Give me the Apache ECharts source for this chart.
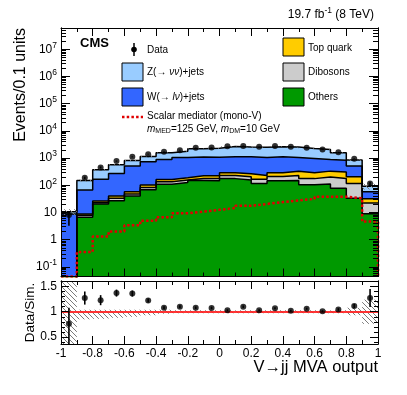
<!DOCTYPE html>
<html>
<head>
<meta charset="UTF-8">
<title>V→jj MVA output</title>
<script src="https://cdn.jsdelivr.net/npm/echarts/dist/echarts.min.js"></script>
<style>
    html, body { margin: 0; padding: 0; background: #fff; }
    #chart { width: 407px; height: 395px; }
</style>
</head>
<body>
<div id="chart"></div>
<script>
// bin edges of the MVA output (20 bins of 0.1)
const binEdges = [-1, -0.9, -0.8, -0.7, -0.6, -0.5, -0.4, -0.3, -0.2, -0.1, 0, 0.1, 0.2, 0.3, 0.4, 0.5, 0.6, 0.7, 0.8, 0.9, 1];

// simulated backgrounds, events per bin (stack order bottom -> top)
const others   = [0.01, 6.7, 20.5, 27, 40, 68, 108, 125, 150, 145, 175, 155, 115, 147, 150, 105, 110, 77, 33, 9];
const dibosons = [0.01, 1.1, 2.4, 5.9, 7.4, 14, 26, 30, 28, 33, 52, 50, 50, 64, 78, 70, 89, 101, 84, 13];
const topQuark = [0.01, 1.0, 3.5, 7.2, 10.4, 19, 30, 34, 45, 45, 58, 59, 65, 77, 100, 113, 131, 127, 88, 10];
const wJets    = [8.7, 58, 138, 232, 447, 626, 721, 860, 870, 840, 821, 845, 819, 821, 720, 676, 554, 532, 300, 25];
const zJets    = [1.8, 81, 204, 290, 308, 411, 677, 720, 1096, 1211, 1544, 1435, 1448, 1506, 1474, 1266, 1162, 737, 334, 35];

// observed data
const dataCounts = [8, 188, 453, 770, 1106, 1390, 1687, 1946, 2364, 2445, 2729, 2798, 2572, 2798, 2572, 2364, 2066, 1645, 935, 117];
// signal: scalar mediator (mono-V)
const signal = [0.044, 0.35, 1.3, 2.0, 3.4, 5.0, 6.7, 9.4, 10.7, 12.5, 14.5, 17.5, 20.5, 24, 27.5, 31.5, 38, 38, 33, 4.6];

// ratio uncertainties
const ratioErrUp   = [0.32, 0.13, 0.10, 0.07, 0.06, 0.04, 0.03, 0.03, 0.025, 0.025, 0.02, 0.025, 0.02, 0.02, 0.02, 0.02, 0.02, 0.025, 0.04, 0.18];
const ratioErrDown = [0.45, 0.13, 0.10, 0.07, 0.06, 0.04, 0.03, 0.03, 0.025, 0.025, 0.02, 0.025, 0.02, 0.02, 0.02, 0.02, 0.02, 0.025, 0.04, 0.18];
const bandLow  = [0.3, 0.85, 0.86, 0.88, 0.9, 0.93, 0.96, 0.97, 0.97, 0.97, 0.97, 0.97, 0.97, 0.97, 0.97, 0.97, 0.97, 0.97, 0.93, 0.76];
const bandHigh = [1.7, 1.04, 1.04, 1.04, 1.04, 1.04, 1.04, 1.03, 1.03, 1.03, 1.03, 1.03, 1.03, 1.03, 1.03, 1.03, 1.03, 1.03, 1.08, 1.24];
const mcUnc    = [0.25, 0.08, 0.07, 0.06, 0.05, 0.04, 0.03, 0.03, 0.03, 0.03, 0.03, 0.03, 0.03, 0.03, 0.03, 0.03, 0.03, 0.03, 0.07, 0.24];

// axis ticks
const decadeTicks = [-1, 0, 1, 2, 3, 4, 5, 6, 7];
const ratioTicks = [0.5, 1, 1.5];
const ratioMinor = [0.4, 0.6, 0.7, 0.8, 0.9, 1.1, 1.2, 1.3, 1.4, 1.6];

const FONT = '"Liberation Sans", Arial, sans-serif';
const YMIN = -1.355, YMAX = 7.78;
const RMIN = 0.36, RMAX = 1.61;

const minorLog = [];
for (let n = -2; n <= 7; n++) {
    for (let k = 2; k <= 9; k++) {
        const v = Math.log10(k) + n;
        if (v > YMIN && v < YMAX) minorLog.push(v);
    }
}

const layers = [
    { vals: others, color: '#009900' },
    { vals: dibosons, color: '#cccccc' },
    { vals: topQuark, color: '#ffcc00' },
    { vals: wJets, color: '#3366ff' },
    { vals: zJets, color: '#99ccff' }
];
let run = others.map(() => 0);
const cum = layers.map(l => (run = run.map((r, i) => r + l.vals[i])));
const total = cum[cum.length - 1];
const ratio = dataCounts.map((d, i) => d / total[i]);

function stepData(vals, closeTo) {
    const pts = vals.map((v, i) => [binEdges[i], Math.log10(v)]);
    pts.push([1, closeTo === undefined ? Math.log10(vals[vals.length - 1]) : closeTo]);
    return pts;
}

function hatchCanvas() {
    const c = document.createElement('canvas');
    c.width = 5; c.height = 5;
    const g = c.getContext('2d');
    g.strokeStyle = '#7a7a7a';
    g.lineWidth = 1;
    g.beginPath();
    g.moveTo(-1, -1); g.lineTo(6, 6);
    g.moveTo(-1, 4); g.lineTo(1, 6);
    g.moveTo(4, -1); g.lineTo(6, 1);
    g.stroke();
    return c;
}
const hatch = { image: hatchCanvas(), repeat: 'repeat' };

function xAx(grid, pos, showLabels) {
    return {
        type: 'value', gridIndex: grid, position: pos, min: -1, max: 1, interval: 0.2, z: 10,
        axisLine: { show: true, onZero: false, lineStyle: { color: '#000', width: 1 } },
        axisTick: { show: true, inside: true, length: 8, lineStyle: { color: '#000' } },
        minorTick: { show: true, splitNumber: 2, length: 4, lineStyle: { color: '#000' } },
        axisLabel: { show: showLabels, color: '#000', fontFamily: FONT, fontSize: 12, margin: 4 },
        splitLine: { show: false }
    };
}

function yAx(grid, pos, min, max, ticks, len, label) {
    const ax = {
        type: 'value', gridIndex: grid, position: pos, min: min, max: max, z: 10,
        axisLine: { show: true, onZero: false, lineStyle: { color: '#000', width: 1 } },
        axisTick: { show: true, inside: true, length: len, customValues: ticks, lineStyle: { color: '#000' } },
        axisLabel: { show: false },
        splitLine: { show: false }
    };
    if (label) {
        ax.axisLabel = Object.assign({ show: true, customValues: ticks, color: '#000', fontFamily: FONT, fontSize: 12, margin: 4 }, label);
    }
    return ax;
}

function bandItem(params, api) {
    const p0 = api.coord([api.value(0), api.value(3)]);
    const p1 = api.coord([api.value(1), api.value(2)]);
    const cs = params.coordSys;
    const rect = echarts.graphic.clipRectByRect(
        { x: p0[0], y: p0[1], width: p1[0] - p0[0], height: p1[1] - p0[1] },
        { x: cs.x, y: cs.y, width: cs.width, height: cs.height });
    return rect && { type: 'rect', shape: rect, style: { fill: hatch, stroke: null } };
}

function errItem(min, max) {
    return function (params, api) {
        const x = api.value(0);
        const lo = Math.max(min, api.value(1));
        const hi = Math.min(max, api.value(2));
        const a = api.coord([x, lo]);
        const b = api.coord([x, hi]);
        return { type: 'line', shape: { x1: a[0], y1: a[1], x2: b[0], y2: b[1] }, style: { stroke: '#000', lineWidth: 1.6 } };
    };
}

const series = [];
for (let i = layers.length - 1; i >= 0; i--) {
    series.push({
        type: 'line', xAxisIndex: 0, yAxisIndex: 0, step: 'end', symbol: 'none', clip: true,
        data: stepData(cum[i]),
        lineStyle: { color: '#000', width: 1.5 },
        areaStyle: { color: layers[i].color, opacity: 1, origin: 'start' },
        z: 2
    });
}
series.push({
    type: 'custom', xAxisIndex: 0, yAxisIndex: 0, renderItem: bandItem, z: 3,
    encode: { x: [0, 1], y: [2, 3] },
    data: total.map((t, i) => [binEdges[i], binEdges[i + 1], Math.log10(t * (1 - mcUnc[i])), Math.log10(t * (1 + mcUnc[i]))])
});
series.push({
    type: 'line', xAxisIndex: 0, yAxisIndex: 0, step: 'end', symbol: 'none', clip: true,
    data: stepData(signal, YMIN),
    lineStyle: { color: '#e00000', width: 2.5, type: [2.5, 2.2] },
    z: 4
});
series.push({
    type: 'custom', xAxisIndex: 0, yAxisIndex: 0, renderItem: errItem(YMIN, YMAX), z: 5,
    encode: { x: 0, y: [1, 2] },
    data: dataCounts.map((d, i) => [(binEdges[i] + binEdges[i + 1]) / 2,
        Math.log10(Math.max(d - ratioErrDown[i] * total[i], 1e-3)), Math.log10(d + ratioErrUp[i] * total[i])])
});
series.push({
    type: 'scatter', xAxisIndex: 0, yAxisIndex: 0, symbol: 'circle', symbolSize: 6, z: 6,
    itemStyle: { color: '#000' },
    data: dataCounts.map((d, i) => [(binEdges[i] + binEdges[i + 1]) / 2, Math.log10(d)])
});

// ratio panel
series.push({
    type: 'custom', xAxisIndex: 2, yAxisIndex: 4, renderItem: bandItem, z: 2,
    encode: { x: [0, 1], y: [2, 3] },
    data: bandLow.map((l, i) => [binEdges[i], binEdges[i + 1], l, bandHigh[i]])
});
series.push({
    type: 'custom', xAxisIndex: 2, yAxisIndex: 4, renderItem: errItem(RMIN, RMAX), z: 5,
    encode: { x: 0, y: [1, 2] },
    data: ratio.map((r, i) => [(binEdges[i] + binEdges[i + 1]) / 2, r - ratioErrDown[i], r + ratioErrUp[i]])
});
series.push({
    type: 'scatter', xAxisIndex: 2, yAxisIndex: 4, symbol: 'circle', symbolSize: 6, z: 6,
    itemStyle: { color: '#000' },
    data: ratio.map((r, i) => [(binEdges[i] + binEdges[i + 1]) / 2, r]),
    markLine: {
        silent: true, symbol: 'none', label: { show: false }, z: 3,
        lineStyle: { color: '#ff2020', width: 2, type: 'solid', opacity: 0.9 },
        data: [{ yAxis: 1 }]
    }
});

function txt(x, y, text, size, extra) {
    return {
        type: 'text', x: x, y: y, z: 100,
        style: Object.assign({
            text: text, fill: '#000', fontFamily: FONT, fontSize: size,
            align: 'left', verticalAlign: 'middle'
        }, extra || {})
    };
}
function box(x, y, color) {
    return { type: 'rect', z: 100, shape: { x: x, y: y, width: 21, height: 18 }, style: { fill: color, stroke: '#000', lineWidth: 1 } };
}
const it = { fontFamily: FONT, fontSize: 10, fontStyle: 'italic' };
const sub = { fontFamily: FONT, fontSize: 7, padding: [5, 0, 0, 0] };

const yTitle = txt(21, 28, 'Events/0.1 units', 16, { align: 'right' });
yTitle.rotation = Math.PI / 2;
const ratioTitle = txt(30, 312.5, 'Data/Sim.', 13.5, { align: 'center' });
ratioTitle.rotation = Math.PI / 2;

const option = {
    animation: false,
    backgroundColor: '#fff',
    grid: [
        { left: 61, top: 28, width: 317, height: 248.5 },
        { left: 61, top: 281, width: 317, height: 63 }
    ],
    xAxis: [xAx(0, 'bottom', false), xAx(0, 'top', false), xAx(1, 'bottom', true), xAx(1, 'top', false)],
    yAxis: [
        yAx(0, 'left', YMIN, YMAX, decadeTicks, 9, {
            formatter: v => {
                const n = Math.round(v);
                if (n === 0) return '1';
                if (n === 1) return '10';
                return '10{sup|' + n + '}';
            },
            rich: { sup: { fontFamily: FONT, fontSize: 8.5, padding: [0, 0, 8, 0] } }
        }),
        yAx(0, 'left', YMIN, YMAX, minorLog, 5),
        yAx(0, 'right', YMIN, YMAX, decadeTicks, 9),
        yAx(0, 'right', YMIN, YMAX, minorLog, 5),
        yAx(1, 'left', RMIN, RMAX, ratioTicks, 8, {}),
        yAx(1, 'left', RMIN, RMAX, ratioMinor, 4),
        yAx(1, 'right', RMIN, RMAX, ratioTicks, 8),
        yAx(1, 'right', RMIN, RMAX, ratioMinor, 4)
    ],
    series: series,
    graphic: [
        txt(374, 15, '19.7 fb{sup|-1} (8 TeV)', 12, {
            align: 'right',
            rich: { sup: { fontFamily: FONT, fontSize: 8.5, padding: [0, 0, 8, 0] } }
        }),
        txt(80, 43, 'CMS', 13, { fontWeight: 'bold' }),
        { type: 'line', z: 100, shape: { x1: 134, y1: 43, x2: 134, y2: 56 }, style: { stroke: '#000', lineWidth: 1.5 } },
        { type: 'circle', z: 100, shape: { cx: 134, cy: 49.5, r: 2.8 }, style: { fill: '#000' } },
        txt(147, 50, 'Data', 10),
        box(122, 63, '#99ccff'),
        txt(147, 72, 'Z(\u2192 {i|\u03bd\u03bd})+jets', 10, { rich: { i: it } }),
        box(122, 88, '#3366ff'),
        txt(147, 97, 'W(\u2192 {i|l\u03bd})+jets', 10, { rich: { i: it } }),
        { type: 'line', z: 100, shape: { x1: 122, y1: 117, x2: 143, y2: 117 }, style: { stroke: '#e00000', lineWidth: 2.5, lineDash: [2.5, 2.2] } },
        txt(147, 116, 'Scalar mediator (mono-V)', 10),
        txt(147, 129, '{i|m}{s|MED}=125 GeV, {i|m}{s|DM}=10 GeV', 10, { rich: { i: it, s: sub } }),
        box(283, 38, '#ffcc00'),
        txt(308, 48, 'Top quark', 10),
        box(283, 63, '#cccccc'),
        txt(308, 72, 'Dibosons', 10),
        box(283, 88, '#009900'),
        txt(308, 97, 'Others', 10),
        yTitle,
        ratioTitle,
        txt(378, 367, 'V\u2192jj MVA output', 16.5, { align: 'right' })
    ]
};

const chart = echarts.init(document.getElementById('chart'));
chart.setOption(option);
</script>
</body>
</html>
